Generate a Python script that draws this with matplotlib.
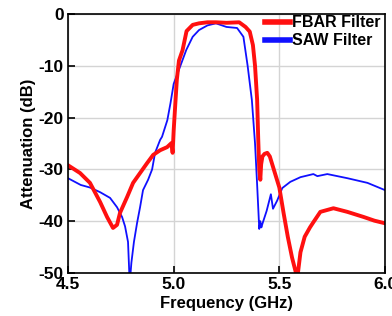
import matplotlib
matplotlib.use('Agg')
import matplotlib.pyplot as plt

# FBAR filter response (GHz, dB)
fbar_freq = [4.50, 4.557, 4.604, 4.652, 4.685, 4.713, 4.732, 4.746, 4.780, 4.808,
             4.841, 4.874, 4.903, 4.936, 4.969, 4.990, 4.995, 5.000, 5.008, 5.015,
             5.025, 5.042, 5.061, 5.09, 5.12, 5.16, 5.20, 5.25, 5.31, 5.34,
             5.36, 5.375, 5.385, 5.395, 5.400, 5.405, 5.410, 5.414, 5.42, 5.43,
             5.443, 5.455, 5.47, 5.50, 5.52, 5.54, 5.56, 5.585, 5.60, 5.62,
             5.645, 5.661, 5.694, 5.756, 5.822, 5.90, 5.95, 6.00]
fbar_db = [-29.2, -30.7, -32.6, -36.3, -39.2, -41.3, -40.7, -38.4, -35.3, -32.6,
           -30.7, -28.8, -27.2, -26.3, -25.7, -24.9, -26.8, -22.5, -17.2, -12.7,
           -9.0, -7.0, -3.3, -2.1, -1.8, -1.6, -1.6, -1.7, -1.6, -2.5,
           -3.4, -6.0, -10.0, -16.6, -24.0, -30.0, -32.0, -29.0, -27.5, -27.0,
           -26.8, -27.5, -29.5, -33.5, -38.4, -43.0, -47.0, -51.0, -46.0, -43.0,
           -41.2, -40.2, -38.2, -37.5, -38.2, -39.2, -39.9, -40.4]

# SAW filter response (GHz, dB)
saw_freq = [4.50, 4.56, 4.604, 4.652, 4.699, 4.732, 4.756, 4.770, 4.784, 4.792,
            4.800, 4.812, 4.827, 4.841, 4.855, 4.879, 4.898, 4.912, 4.936, 4.945,
            4.97, 4.985, 5.00, 5.03, 5.06, 5.09, 5.12, 5.16, 5.20, 5.25,
            5.30, 5.33, 5.35, 5.37, 5.385, 5.395, 5.405, 5.41, 5.415, 5.42,
            5.44, 5.46, 5.47, 5.49, 5.514, 5.552, 5.60, 5.661, 5.68, 5.727,
            5.822, 5.917, 6.00]
saw_db = [-31.7, -33.0, -33.5, -34.4, -35.5, -37.3, -39.2, -41.0, -44.0, -52.0,
          -48.0, -44.0, -40.3, -37.3, -34.0, -32.0, -30.0, -26.8, -24.3, -23.7,
          -20.5, -17.2, -13.5, -10.2, -6.9, -4.4, -3.1, -2.2, -1.8, -2.5,
          -2.7, -4.4, -10.0, -16.6, -25.0, -33.0, -41.5, -40.0, -41.2, -40.5,
          -38.0, -34.8, -37.6, -36.0, -33.6, -32.4, -31.5, -30.9, -31.3, -30.9,
          -31.7, -32.6, -34.0]

x_ticks = [4.5, 5.0, 5.5, 6.0]
x_labels = ['4.5', '5.0', '5.5', '6.0']
y_ticks = [0, -10, -20, -30, -40, -50]

plt.rcParams['font.family'] = ['Liberation Sans', 'DejaVu Sans']
plt.rcParams['font.weight'] = 'bold'
plt.rcParams['axes.unicode_minus'] = False

fig = plt.figure(figsize=(3.92, 3.16), dpi=100)
ax = fig.add_axes([68 / 392, 1 - 273 / 316, 317 / 392, 259 / 316])

saw_line, = ax.plot(saw_freq, saw_db, color='#1010ff', lw=1.3)
fbar_line, = ax.plot(fbar_freq, fbar_db, color='#ff1010', lw=2.8)

ax.set_xlim(4.5, 6.0)
ax.set_ylim(-50, 0)
ax.set_xticks(x_ticks)
ax.set_xticklabels(x_labels)
ax.set_yticks(y_ticks)
ax.grid(True, color='#d4d4d4', lw=1)
ax.set_axisbelow(True)
ax.tick_params(direction='in', length=5, width=1.2, labelsize=12.5, pad=3)
for lbl in ax.get_xticklabels() + ax.get_yticklabels():
    lbl.set_fontweight('bold')
for sp in ax.spines.values():
    sp.set_linewidth(1.2)

ax.set_xlabel('Frequency (GHz)', fontsize=12, fontweight='bold', labelpad=3)
ax.set_ylabel('Attenuation (dB)', fontsize=12, fontweight='bold', labelpad=2)

leg_handles = [plt.Line2D([], [], color='#ff1010', lw=4),
               plt.Line2D([], [], color='#1010ff', lw=4)]
ax.legend(leg_handles, ['FBAR Filter', 'SAW Filter'], loc='upper right',
          bbox_to_anchor=(1.005, 1.02), frameon=False, handlelength=1.6,
          handletextpad=0.1, labelspacing=0.2, borderaxespad=0,
          prop={'size': 11.5, 'weight': 'bold'})

fig.savefig('out.png', dpi=100)
